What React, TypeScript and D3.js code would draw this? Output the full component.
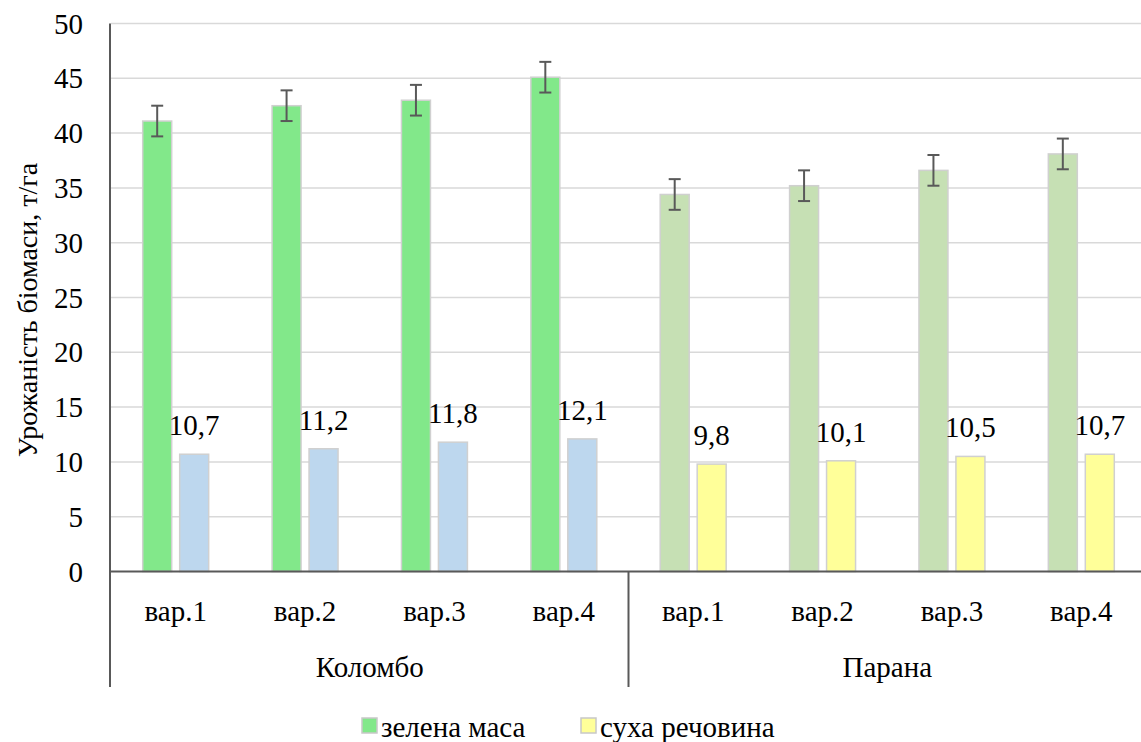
import React from "react";
import * as d3 from "d3";

const groups = ["Коломбо", "Парана"];
const variants = ["вар.1", "вар.2", "вар.3", "вар.4", "вар.1", "вар.2", "вар.3", "вар.4"];
const groupOf = [0, 0, 0, 0, 1, 1, 1, 1];
const greenMass = [41.1, 42.5, 43.0, 45.1, 34.4, 35.2, 36.6, 38.1];
const greenErr = [1.4, 1.4, 1.4, 1.4, 1.4, 1.4, 1.4, 1.4];
const dryMatter = [10.7, 11.2, 11.8, 12.1, 9.8, 10.1, 10.5, 10.7];
const dryLabels = ["10,7", "11,2", "11,8", "12,1", "9,8", "10,1", "10,5", "10,7"];
const yTicks = [0, 5, 10, 15, 20, 25, 30, 35, 40, 45, 50];
const seriesNames = ["зелена маса", "суха речовина"];

const greenColors = ["#82E88A", "#C6E0B4"];
const dryColors = ["#BDD7EE", "#FFFF99"];

const W = 1141;
const H = 742;
const BASE = 36;

function T(props: any) {
  const { children, x, y, size = 29, rotate = 0, anchor = "start" } = props;
  const k = size / BASE;
  return (
    <text
      transform={`translate(${x},${y}) rotate(${rotate}) scale(${k})`}
      textAnchor={anchor}
      fill="#000"
      fontSize={BASE}
      style={{ fontFamily: '"Liberation Serif"' }}
    >
      {children}
    </text>
  );
}

export default function App() {
  const left = 111;
  const right = 1146;
  const y = d3.scaleLinear().domain([0, 50]).range([571.5, 23.5]);
  const x0 = d3
    .scaleBand<number>()
    .domain(d3.range(variants.length))
    .range([left, right])
    .padding(0);
  const x1 = d3
    .scaleBand<string>()
    .domain(["g", "d"])
    .range([0, x0.bandwidth()])
    .paddingInner(0.216)
    .paddingOuter(0.857);
  const step = x0.step();
  const axisColor = "#595959";

  return (
    <svg width={W} height={H} style={{ position: "absolute", left: 0, top: 0 }}>
      {yTicks.map((t) =>
        t === 0 ? null : (
          <line key={"g" + t} x1={left} x2={right} y1={y(t)} y2={y(t)} stroke="#D9D9D9" strokeWidth={1.5} />
        )
      )}
      {yTicks.map((t) => (
        <T key={"t" + t} x={83} y={y(t) + 10} anchor="end">
          {String(t)}
        </T>
      ))}
      <T x={37} y={310} size={28} rotate={-90} anchor="middle">
        Урожаність біомаси, т/га
      </T>

      {variants.map((v, i) => {
        const gx = x0(i)!;
        const g = groupOf[i];
        const bx = gx + x1("g")!;
        const dx = gx + x1("d")!;
        const bw = x1.bandwidth();
        const cx = bx + bw / 2;
        return (
          <g key={"b" + i}>
            <rect x={bx} y={y(greenMass[i])} width={bw} height={y(0) - y(greenMass[i])} fill={greenColors[g]} stroke="#D0D0D0" strokeWidth={1.5} />
            <rect x={dx} y={y(dryMatter[i])} width={bw} height={y(0) - y(dryMatter[i])} fill={dryColors[g]} stroke="#D0D0D0" strokeWidth={1.5} />
            <g stroke={axisColor} strokeWidth={2}>
              <line x1={cx} x2={cx} y1={y(greenMass[i] - greenErr[i])} y2={y(greenMass[i] + greenErr[i])} />
              <line x1={cx - 6} x2={cx + 6} y1={y(greenMass[i] - greenErr[i])} y2={y(greenMass[i] - greenErr[i])} />
              <line x1={cx - 6} x2={cx + 6} y1={y(greenMass[i] + greenErr[i])} y2={y(greenMass[i] + greenErr[i])} />
            </g>
            <T x={dx + bw / 2} y={y(dryMatter[i]) - 19} anchor="middle">
              {dryLabels[i]}
            </T>
            <T x={gx + step / 2} y={621} anchor="middle">
              {v}
            </T>
          </g>
        );
      })}

      <line x1={110} x2={110} y1={23.5} y2={687} stroke={axisColor} strokeWidth={2} />
      <line x1={110} x2={right} y1={y(0)} y2={y(0)} stroke={axisColor} strokeWidth={2} />
      {groups.map((gname, gi) => {
        const gStart = x0(gi * 4)!;
        const gEnd = gStart + step * 4;
        return (
          <g key={"grp" + gi}>
            <line x1={gEnd} x2={gEnd} y1={y(0)} y2={687} stroke={axisColor} strokeWidth={2} />
            <T x={(gStart + gEnd) / 2} y={677} anchor="middle">
              {gname}
            </T>
          </g>
        );
      })}

      {seriesNames.map((s, i) => {
        const lx = i === 0 ? 362 : 581;
        return (
          <g key={"l" + i}>
            <rect x={lx} y={718} width={15} height={15} fill={i === 0 ? greenColors[0] : dryColors[1]} stroke="#C8C8C8" strokeWidth={1.5} />
            <T x={lx + 19} y={737}>
              {s}
            </T>
          </g>
        );
      })}
    </svg>
  );
}
